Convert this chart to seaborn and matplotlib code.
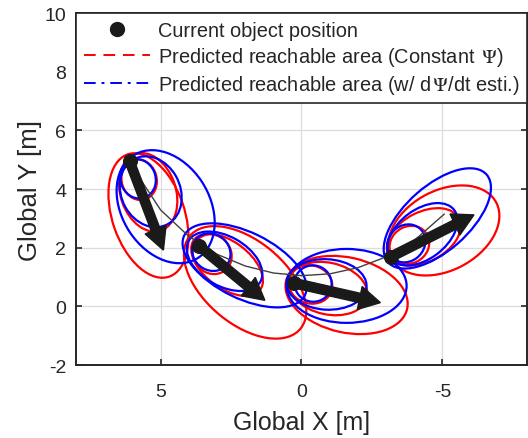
import matplotlib
matplotlib.use('Agg')
import matplotlib.pyplot as plt
import seaborn as sns
from matplotlib.patches import Ellipse
from matplotlib.lines import Line2D

# current object positions and heading arrow tips [m]
pos_x = [6.1, 3.62, 0.28, -3.19]
pos_y = [4.95, 2.05, 0.80, 1.70]
tip_x = [4.9, 1.30, -2.80, -6.12]
tip_y = [1.92, 0.21, 0.13, 3.12]

# true trajectory (grey)
traj_x = [6.1, 5.0, 4.0, 3.0, 2.0, 1.0, 0.0, -1.0, -2.0, -3.0, -4.0, -5.07]
traj_y = [4.90, 3.29, 2.39, 1.78, 1.38, 1.14, 1.05, 1.11, 1.32, 1.69, 2.25, 3.15]

# reachable-area ellipses, constant heading (red): 3 horizons per position
red_cx = [5.76, 5.44, 5.43, 3.17, 2.64, 2.00, -0.32, -0.94, -1.60, -3.83, -4.34, -5.05]
red_cy = [4.32, 3.89, 3.10, 1.78, 1.42, 0.82, 0.75, 0.61, 0.39, 2.10, 2.37, 2.59]
red_a = [0.70, 1.38, 2.21, 0.72, 1.45, 2.52, 0.78, 1.42, 2.20, 0.72, 1.40, 2.09]
red_b = [0.62, 0.98, 1.28, 0.65, 0.80, 1.43, 0.65, 0.88, 1.28, 0.63, 0.85, 1.37]
red_ang = [70, 70, 70, 38, 35, 38, 12, 12, 12, -26, -26, -26]

# reachable-area ellipses with yaw-rate estimate (blue)
blue_cx = [5.80, 5.35, 4.82, 3.20, 2.73, 2.02, -0.41, -0.89, -1.60, -3.72, -4.29, -4.82]
blue_cy = [4.35, 3.91, 3.40, 1.85, 1.54, 1.40, 0.78, 0.75, 0.70, 2.15, 2.46, 3.00]
blue_a = [0.68, 1.26, 2.09, 0.70, 1.45, 2.37, 0.66, 1.42, 2.13, 0.70, 1.40, 2.30]
blue_b = [0.62, 1.04, 1.54, 0.62, 0.85, 1.13, 0.62, 0.86, 1.26, 0.62, 0.85, 1.12]
blue_ang = [65, 60, 55, 30, 28, 25, 5, 3, 0, -35, -35, -40]

sns.set_theme(style='ticks')
plt.rcParams['font.family'] = ['Liberation Sans', 'DejaVu Sans']
plt.rcParams['mathtext.fontset'] = 'stix'
plt.rcParams['axes.unicode_minus'] = False
txt = '#262626'

fig = plt.figure(figsize=(5.28, 4.39), dpi=100)
ax = fig.add_axes([0.144, 0.166, 0.854, 0.802])

for cx, cy, a, b, ang in zip(red_cx, red_cy, red_a, red_b, red_ang):
    ax.add_patch(Ellipse((cx, cy), 2 * a, 2 * b, angle=ang, fill=False,
                         ec='#ff0000', lw=1.6, zorder=3))
for cx, cy, a, b, ang in zip(blue_cx, blue_cy, blue_a, blue_b, blue_ang):
    ax.add_patch(Ellipse((cx, cy), 2 * a, 2 * b, angle=ang, fill=False,
                         ec='#0000ff', lw=1.6, zorder=3))

sns.lineplot(x=traj_x, y=traj_y, sort=False, color='#404040', lw=1.0, ax=ax, zorder=4)
sns.scatterplot(x=pos_x, y=pos_y, color='k', s=100, edgecolor='k', ax=ax,
                zorder=5, legend=False)
for x0, y0, x1, y1 in zip(pos_x, pos_y, tip_x, tip_y):
    ax.arrow(x0, y0, x1 - x0, y1 - y0, width=0.32, head_width=0.8,
             head_length=0.75, length_includes_head=True, color='k', zorder=6)

ax.set_xlim(8, -8)
ax.set_ylim(-2, 10)
ax.set_xticks([5, 0, -5])
ax.set_yticks(range(-2, 11, 2))
ax.grid(True, color='#dcdcdc', lw=0.9)
ax.set_axisbelow(True)
ax.tick_params(direction='in', length=4, width=1.2, top=True, right=True,
               labelsize=14, colors=txt, labelcolor=txt)
ax.tick_params(axis='x', pad=13)
ax.tick_params(axis='y', pad=7)
for sp in ax.spines.values():
    sp.set_color('#262626')
    sp.set_linewidth(1.4)
ax.set_xlabel('Global X [m]', fontsize=18, color=txt, labelpad=7)
ax.set_ylabel('Global Y [m]', fontsize=18.5, color=txt, labelpad=2)

handles = [
    Line2D([], [], marker='o', color='k', ls='none', ms=10),
    Line2D([], [], color='#ff0000', lw=1.4, ls=(0, (6, 4))),
    Line2D([], [], color='#0000ff', lw=1.4, ls=(0, (6, 3, 1.5, 3))),
]
labels = ['Current object position',
          r'Predicted reachable area (Constant $\,\Psi$)',
          r'Predicted reachable area (w/ d$\,\Psi$/dt esti.)']
leg = ax.legend(handles, labels, loc='upper left', bbox_to_anchor=(0, 1),
                borderaxespad=0, fontsize=14.4, handlelength=3.3, handletextpad=0.4,
                labelspacing=0.25, fancybox=False, framealpha=1,
                edgecolor='#262626', borderpad=0.38)
leg.get_frame().set_linewidth(1.2)
leg.set_zorder(10)

fig.savefig('out.png', dpi=100)
